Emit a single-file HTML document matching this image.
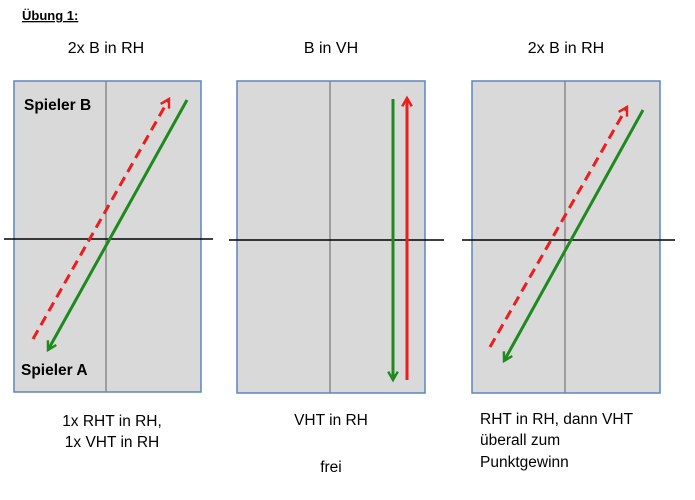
<!DOCTYPE html>
<html><head><meta charset="utf-8"><style>
html,body{margin:0;padding:0;background:#fff}
svg{display:block;font-family:"Liberation Sans",Arial,sans-serif}
</style></head><body>
<svg width="695" height="500" viewBox="0 0 695 500">
<defs>
<marker id="ag" viewBox="0 0 10 10" refX="8" refY="5" markerWidth="4" markerHeight="4" orient="auto"><path d="M1,1 L8,5 L1,9" fill="none" stroke="#1e8a1e" stroke-width="2"/></marker>
<marker id="ar" viewBox="0 0 10 10" refX="8" refY="5" markerWidth="4" markerHeight="4" orient="auto"><path d="M1,1 L8,5 L1,9" fill="none" stroke="#ee1c1c" stroke-width="2"/></marker>
</defs>
<text x="22" y="20" font-size="13" font-weight="bold" text-decoration="underline">Übung 1:</text>

<text x="106" y="53" font-size="16" text-anchor="middle">2x B in RH</text>
<text x="331" y="53" font-size="16" text-anchor="middle">B in VH</text>
<text x="566" y="53" font-size="16" text-anchor="middle">2x B in RH</text>

<g>
<rect x="14" y="81" width="187" height="311" fill="#d9d9d9" stroke="#5b86c2" stroke-width="1.5"/>
<line x1="106" y1="81" x2="106" y2="392" stroke="#7f7f7f" stroke-width="1.3"/>
<line x1="4" y1="239" x2="213" y2="239" stroke="#000" stroke-width="1.5"/>
<line x1="33" y1="339" x2="169" y2="99" stroke="#ee1c1c" stroke-width="3" stroke-dasharray="10,6" marker-end="url(#ar)"/>
<line x1="187" y1="100" x2="48" y2="350" stroke="#1e8a1e" stroke-width="3" marker-end="url(#ag)"/>
<text x="24" y="110" font-size="15.5" font-weight="bold">Spieler B</text>
<text x="21" y="375" font-size="15.5" font-weight="bold">Spieler A</text>
</g>

<g>
<rect x="237" y="81" width="188" height="312" fill="#d9d9d9" stroke="#5b86c2" stroke-width="1.5"/>
<line x1="330" y1="81" x2="330" y2="393" stroke="#7f7f7f" stroke-width="1.3"/>
<line x1="229" y1="240" x2="444" y2="240" stroke="#000" stroke-width="1.5"/>
<line x1="393" y1="99" x2="393" y2="380" stroke="#1e8a1e" stroke-width="3" marker-end="url(#ag)"/>
<line x1="407" y1="380" x2="407" y2="98" stroke="#ee1c1c" stroke-width="3" marker-end="url(#ar)"/>
</g>

<g>
<rect x="472" y="81" width="188" height="312" fill="#d9d9d9" stroke="#5b86c2" stroke-width="1.5"/>
<line x1="565" y1="81" x2="565" y2="393" stroke="#7f7f7f" stroke-width="1.3"/>
<line x1="462" y1="240" x2="675" y2="240" stroke="#000" stroke-width="1.5"/>
<line x1="490" y1="347" x2="627" y2="107" stroke="#ee1c1c" stroke-width="3" stroke-dasharray="10,6" marker-end="url(#ar)"/>
<line x1="643" y1="110" x2="504" y2="361" stroke="#1e8a1e" stroke-width="3" marker-end="url(#ag)"/>
</g>

<g font-size="15.5">
<text x="112" y="426" text-anchor="middle">1x RHT in RH,</text>
<text x="112" y="447" text-anchor="middle">1x VHT in RH</text>
<text x="331" y="425" text-anchor="middle">VHT in RH</text>
<text x="331" y="472" text-anchor="middle">frei</text>
<text x="480" y="424">RHT in RH, dann VHT</text>
<text x="480" y="445">überall zum</text>
<text x="480" y="467">Punktgewinn</text>
</g>
</svg>
</body></html>
